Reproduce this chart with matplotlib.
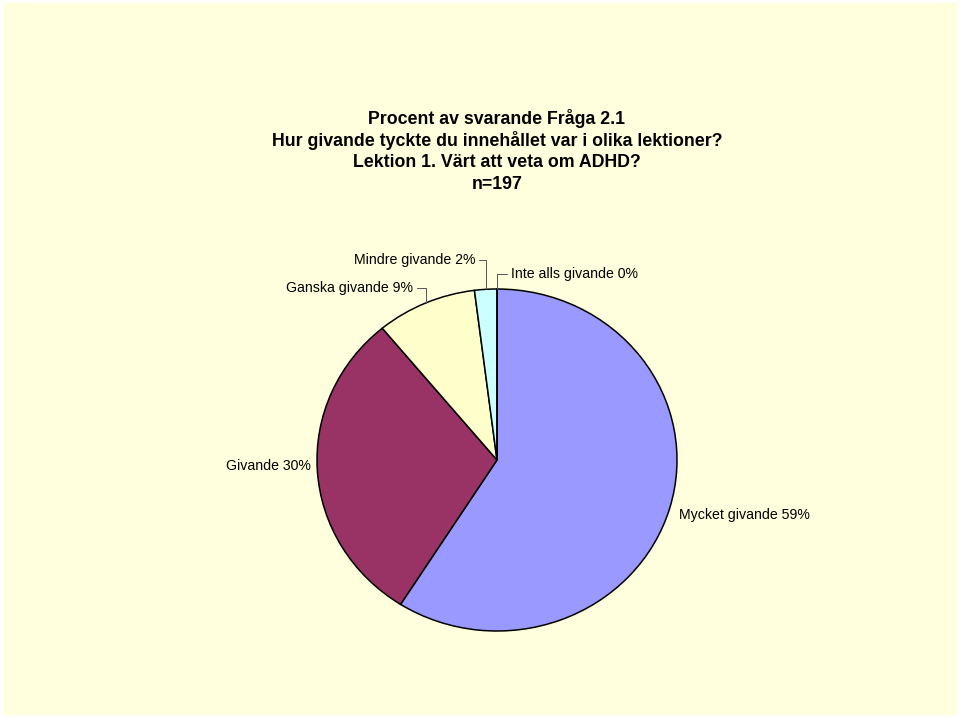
import matplotlib.pyplot as plt
import matplotlib.patches as mpatches
import numpy as np

# Data
labels = ["Mycket givande", "Givande", "Ganska givande", "Mindre givande", "Inte alls givande"]
percent = [59, 30, 9, 2, 0]
colors = ["#9999FF", "#993366", "#FFFFCC", "#CCFFFF", "#FFFFFF"]
title_lines = [
    "Procent av svarande Fråga 2.1",
    "Hur givande tyckte du innehållet var i olika lektioner?",
    "Lektion 1. Värt att veta om ADHD?",
    "n=197",
]

plt.rcParams['font.family'] = ['Liberation Sans', 'DejaVu Sans']

W, H = 960, 717
fig = plt.figure(figsize=(W / 100, H / 100), dpi=100)
fig.patch.set_facecolor("white")
fig.add_artist(mpatches.Rectangle((4 / W, 3 / H), 952 / W, 711 / H,
                                  transform=fig.transFigure, color="#FFFFDD", zorder=0))

# Pie axes (slightly elliptical like the original)
cx, cy, rx, ry = 497, 460, 180, 171
ax = fig.add_axes([(cx - rx) / W, (H - cy - ry) / H, 2 * rx / W, 2 * ry / H])
wedges, _ = ax.pie(percent, colors=colors, startangle=90, counterclock=False,
                   wedgeprops=dict(edgecolor="black", linewidth=1.1))
ax.set_aspect("auto")
ax.set_xlim(-1, 1)
ax.set_ylim(-1, 1)
ax.axis("off")

# Title
for i, line in enumerate(title_lines):
    fig.text(cx / W, 1 - (118 + i * 22.3) / H, line, ha="center", va="center",
             fontsize=12.8, fontweight="bold")

# Labels (text positions in pixels, anchor at mid angle of each slice)
def px(x, y):
    return (x - cx) / rx, (cy - y) / ry

cum = np.cumsum([0] + percent[:-1])
mid_angles = [np.deg2rad(90 - 3.6 * (c + v / 2)) for c, v in zip(cum, percent)]
label_pos = [
    (px(744, 515), "center", False),
    (px(268, 466), "center", False),
    (px(413, 288), "right", True),
    (px(475, 260), "right", True),
    (px(511, 274), "left", True),
]
for lab, val, ang, (pos, ha, leader) in zip(labels, percent, mid_angles, label_pos):
    txt = f"{lab} {val}%"
    if leader:
        ax.annotate(txt, xy=(np.cos(ang), np.sin(ang)), xytext=pos, ha=ha, va="center",
                    fontsize=10.2, annotation_clip=False,
                    arrowprops=dict(arrowstyle="-", color="#555555", lw=0.7,
                                    shrinkA=1, shrinkB=0,
                                    connectionstyle="angle,angleA=0,angleB=90,rad=0"))
    else:
        ax.text(pos[0], pos[1], txt, ha=ha, va="center", fontsize=10.2)

plt.savefig("out.png", dpi=100)
